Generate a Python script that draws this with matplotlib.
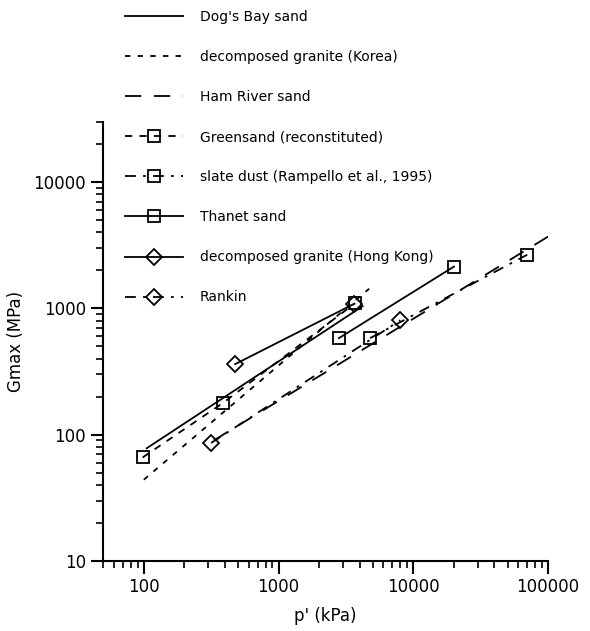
import matplotlib
matplotlib.use("Agg")
import matplotlib.pyplot as plt
from matplotlib.ticker import FixedLocator, FixedFormatter, LogLocator, NullFormatter

# values (p' in kPa, Gmax in MPa)
dogs_bay_p = [105, 4200]
dogs_bay_g = [78, 1040]

korea_p = [100, 4700]
korea_g = [44, 1430]

ham_p = [330, 100000]
ham_g = [90, 3700]

greensand_p = [98, 389, 3700]
greensand_g = [66, 179, 1100]

slate_p = [4775, 70000]
slate_g = [581, 2660]

thanet_p = [2805, 20000]
thanet_g = [581, 2140]

hk_p = [477, 3600]
hk_g = [362, 1080]

rankin_p = [316, 8000]
rankin_g = [86, 805]

x_ticks = [100, 1000, 10000, 100000]
y_ticks = [10, 100, 1000, 10000]

plt.rcParams['font.family'] = ['DejaVu Sans']

fig = plt.figure(figsize=(5.9, 6.31), dpi=100)
ax = fig.add_axes([0.175, 0.111, 0.754, 0.696])

lw = 1.3
ms = 9
h = []
h += ax.plot(dogs_bay_p, dogs_bay_g, color='black', lw=lw, label="Dog's Bay sand")
h += ax.plot(korea_p, korea_g, color='black', lw=lw, linestyle=(0, (3, 4)),
             label="decomposed granite (Korea)")
h += ax.plot(ham_p, ham_g, color='black', lw=lw, linestyle=(0, (9, 7)),
             label="Ham River sand")
h += ax.plot(greensand_p, greensand_g, color='black', lw=lw, linestyle=(0, (4, 4)),
             marker='s', ms=ms, mfc='none', mew=1.3, label="Greensand (reconstituted)")
h += ax.plot(slate_p, slate_g, color='black', lw=lw, linestyle=(0, (6, 4, 1.5, 4)),
             marker='s', ms=ms, mfc='none', mew=1.3, label="slate dust (Rampello et al., 1995)")
h += ax.plot(thanet_p, thanet_g, color='black', lw=lw,
             marker='s', ms=ms, mfc='none', mew=1.3, label="Thanet sand")
h += ax.plot(hk_p, hk_g, color='black', lw=lw,
             marker='D', ms=ms - 1, mfc='none', mew=1.3, label="decomposed granite (Hong Kong)")
h += ax.plot(rankin_p, rankin_g, color='black', lw=lw, linestyle=(0, (6, 4, 1.5, 4)),
             marker='D', ms=ms - 1, mfc='none', mew=1.3, label="Rankin")

ax.set_xscale('log')
ax.set_yscale('log')
ax.set_xlim(50, 100000)
ax.set_ylim(10, 30000)

ax.xaxis.set_major_locator(FixedLocator(x_ticks))
ax.xaxis.set_major_formatter(FixedFormatter([str(v) for v in x_ticks]))
ax.yaxis.set_major_locator(FixedLocator(y_ticks))
ax.yaxis.set_major_formatter(FixedFormatter([str(v) for v in y_ticks]))
ax.xaxis.set_minor_locator(LogLocator(base=10, subs=range(2, 10)))
ax.yaxis.set_minor_locator(LogLocator(base=10, subs=range(2, 10)))
ax.xaxis.set_minor_formatter(NullFormatter())
ax.yaxis.set_minor_formatter(NullFormatter())

for s in ['top', 'right']:
    ax.spines[s].set_visible(False)
for s in ['left', 'bottom']:
    ax.spines[s].set_linewidth(1.5)
ax.tick_params(which='major', direction='out', length=9, width=1.5, labelsize=12)
ax.tick_params(which='minor', direction='out', length=5, width=1.2)

ax.set_xlabel("p' (kPa)", fontsize=12, labelpad=8)
ax.set_ylabel("Gmax (MPa)", fontsize=12, labelpad=6)

fig.legend(handles=h, loc='upper left', bbox_to_anchor=(0.195, 1.0),
           frameon=False, fontsize=10, handlelength=4.2, handletextpad=1.2,
           labelspacing=1.88, numpoints=1, borderaxespad=0.3)

fig.savefig('out.png', dpi=100)
